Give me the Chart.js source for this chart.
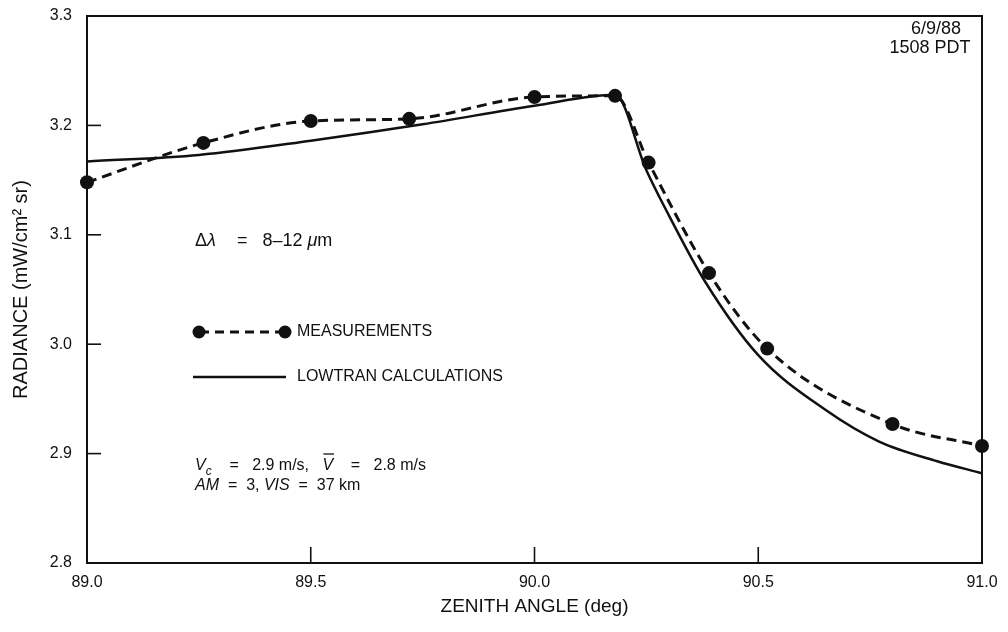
<!DOCTYPE html>
<html>
<head>
<meta charset="utf-8">
<script src="https://cdn.jsdelivr.net/npm/chart.js@4"></script>
<style>
  html, body { margin: 0; padding: 0; background: #fff; }
  #wrap { width: 1008px; height: 632px; }
</style>
</head>
<body>
<div id="wrap"><canvas id="c" width="1008" height="632"></canvas></div>
<script>
  // zenith angle (deg) vs radiance (mW/cm2 sr)
  const measAngle = [89.0, 89.26, 89.5, 89.72, 90.0, 90.18, 90.255, 90.39, 90.52, 90.80, 91.0];
  const measRad   = [3.148, 3.184, 3.204, 3.206, 3.226, 3.227, 3.166, 3.065, 2.996, 2.927, 2.907];

  const calcAngle = [89.0, 89.25, 89.5, 89.75, 90.0, 90.18, 90.25, 90.3, 90.38, 90.5, 90.65, 90.77, 90.9, 91.0];
  const calcRad   = [3.167, 3.173, 3.186, 3.201, 3.218, 3.228, 3.159, 3.118, 3.058, 2.990, 2.940, 2.911, 2.893, 2.882];

  const yTicks = [2.8, 2.9, 3.0, 3.1, 3.2, 3.3];
  const xTicks = [89.0, 89.5, 90.0, 90.5, 91.0];

  const FONT = "'Liberation Sans', Arial, sans-serif";
  const pts = (xs, ys) => xs.map((x, i) => ({ x, y: ys[i] }));

  // frame, inward tick marks and the text notes
  const decor = {
    id: "decor",
    afterDraw(chart) {
      const ctx = chart.ctx, a = chart.chartArea;
      const xs = chart.scales.x, ys = chart.scales.y;
      ctx.save();
      ctx.strokeStyle = "#111";
      ctx.lineWidth = 2;
      ctx.strokeRect(a.left, a.top, a.right - a.left, a.bottom - a.top);

      ctx.lineWidth = 1.6;
      yTicks.slice(1, -1).forEach(v => {
        const p = ys.getPixelForValue(v);
        ctx.beginPath(); ctx.moveTo(a.left, p); ctx.lineTo(a.left + 14, p); ctx.stroke();
      });
      xTicks.slice(1, -1).forEach(v => {
        const p = xs.getPixelForValue(v);
        ctx.beginPath(); ctx.moveTo(p, a.bottom); ctx.lineTo(p, a.bottom - 16); ctx.stroke();
      });

      ctx.fillStyle = "#111";
      ctx.textBaseline = "middle";

      // date / time
      ctx.font = "18px " + FONT;
      ctx.textAlign = "center";
      ctx.fillText("6/9/88", 936, 29);
      ctx.fillText("1508 PDT", 930, 48);

      // legend
      ctx.font = "16px " + FONT;
      ctx.textAlign = "left";
      ctx.fillText("MEASUREMENTS", 297, 332);
      ctx.fillText("LOWTRAN CALCULATIONS", 297, 377);
      ctx.lineWidth = 3;
      ctx.setLineDash([9, 6]);
      ctx.beginPath(); ctx.moveTo(200, 332); ctx.lineTo(284, 332); ctx.stroke();
      ctx.setLineDash([]);
      [199, 285].forEach(x => { ctx.beginPath(); ctx.arc(x, 332, 6.5, 0, Math.PI * 2); ctx.fill(); });
      ctx.lineWidth = 2.5;
      ctx.beginPath(); ctx.moveTo(193, 377); ctx.lineTo(286, 377); ctx.stroke();

      // text runs with italic parts
      const run = (x, y, parts) => {
        parts.forEach(p => {
          ctx.font = (p.i ? "italic " : "") + (p.s || 16) + "px " + FONT;
          const w = ctx.measureText(p.t).width;
          ctx.fillText(p.t, x, y + (p.dy || 0));
          if (p.bar) {
            ctx.lineWidth = 1.3;
            ctx.beginPath(); ctx.moveTo(x + 1, y - 12); ctx.lineTo(x + w + 1, y - 12); ctx.stroke();
          }
          x += w + (p.gap || 0);
        });
      };
      run(195, 241, [{ t: "Δ", s: 18 }, { t: "λ", i: true, s: 18, gap: 6 }, { t: "   =   8–12 ", s: 18 },
                     { t: "μ", i: true, s: 18 }, { t: "m", s: 18 }]);
      run(195, 466, [{ t: "V", i: true }, { t: "c", i: true, s: 12, dy: 6 }, { t: "    =   2.9 m/s,   " },
                     { t: "V", i: true, bar: true }, { t: "    =   2.8 m/s" }]);
      run(195, 486, [{ t: "AM", i: true }, { t: "  =  3, " }, { t: "VIS", i: true }, { t: "  =  37 km" }]);
      ctx.restore();
    }
  };

  new Chart(document.getElementById("c"), {
    type: "line",
    data: {
      datasets: [
        {
          label: "MEASUREMENTS",
          data: pts(measAngle, measRad),
          borderColor: "#111", backgroundColor: "#111",
          borderWidth: 3, borderDash: [10, 6],
          pointRadius: 7, pointBorderWidth: 0,
          cubicInterpolationMode: "monotone",
          clip: false
        },
        {
          label: "LOWTRAN CALCULATIONS",
          data: pts(calcAngle, calcRad),
          borderColor: "#111",
          borderWidth: 2.5, pointRadius: 0,
          cubicInterpolationMode: "monotone"
        }
      ]
    },
    options: {
      responsive: false,
      animation: false,
      layout: { padding: { top: 16, right: 26, left: 0, bottom: 0 } },
      plugins: { legend: { display: false }, tooltip: { enabled: false } },
      scales: {
        x: {
          type: "linear", min: 89, max: 91,
          afterFit: s => { s.height = 69; s.paddingLeft = 0; s.paddingRight = 0; },
          afterBuildTicks: s => { s.ticks = xTicks.map(v => ({ value: v })); },
          grid: { display: false, drawTicks: false },
          border: { display: false },
          ticks: { padding: 10, color: "#111", font: { family: FONT, size: 16 },
                   maxRotation: 0, callback: v => v.toFixed(1) },
          title: { display: true, text: "ZENITH ANGLE (deg)", color: "#111",
                   font: { family: FONT, size: 19 }, padding: { top: 0, bottom: 14 } }
        },
        y: {
          type: "linear", min: 2.8, max: 3.3,
          afterFit: s => { s.width = 87; s.paddingTop = 0; s.paddingBottom = 0; },
          afterBuildTicks: s => { s.ticks = yTicks.map(v => ({ value: v })); },
          grid: { display: false, drawTicks: false },
          border: { display: false },
          ticks: { padding: 15, color: "#111", font: { family: FONT, size: 16 },
                   callback: v => v.toFixed(1) },
          title: { display: true, text: "RADIANCE (mW/cm² sr)", color: "#111",
                   font: { family: FONT, size: 20 }, padding: { top: 9, bottom: 0 } }
        }
      }
    },
    plugins: [decor]
  });
</script>
</body>
</html>
